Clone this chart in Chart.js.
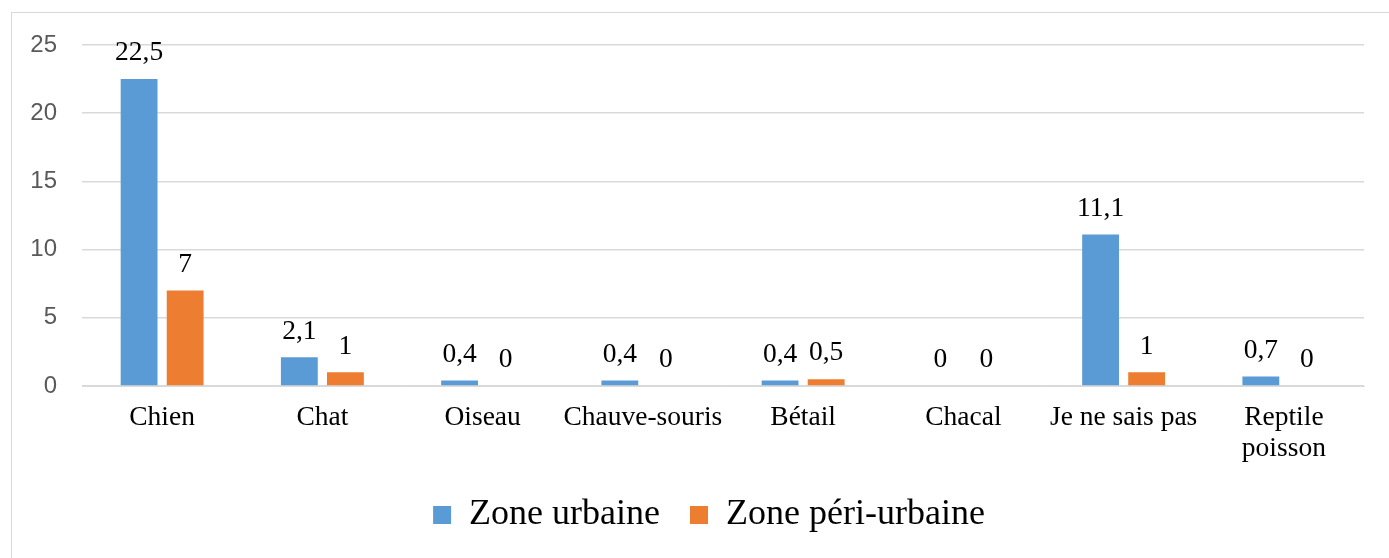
<!DOCTYPE html>
<html>
<head>
<meta charset="utf-8">
<script src="https://cdn.jsdelivr.net/npm/chart.js@4"></script>
<style>
    html, body { margin: 0; padding: 0; background: #fff; overflow: hidden; }
    #wrap { position: relative; width: 1389px; height: 558px; }
    #frame {
        position: absolute; left: 11px; top: 12px; width: 1400px; height: 600px;
        border: 1px solid #d9d9d9; pointer-events: none;
    }
    canvas { position: absolute; left: 0; top: 0; }
</style>
</head>
<body>
<div id="wrap">
    <canvas id="chart-animals" width="1389" height="558"></canvas>
    <div id="frame"></div>
</div>
<script>
const categories = ['Chien', 'Chat', 'Oiseau', 'Chauve-souris', 'Bétail', 'Chacal', 'Je ne sais pas', ['Reptile', 'poisson']];
const urbain = [22.5, 2.1, 0.4, 0.4, 0.4, 0, 11.1, 0.7];
const periUrbain = [7, 1, 0, 0, 0.5, 0, 1, 0];
const yTicks = [0, 5, 10, 15, 20, 25];

const serif = '"Liberation Serif", "Times New Roman", serif';

// write the value above each bar, french decimal comma
const valueLabels = {
    id: 'valueLabels',
    afterLayout(chart) {
        // legend is centred on the plot in the original, not on the canvas
        chart.legend.left += 27;
        chart.legend.right += 27;
    },
    afterDatasetsDraw(chart) {
        const ctx = chart.ctx;
        ctx.save();
        ctx.font = '27.5px ' + serif;
        ctx.fillStyle = '#000';
        ctx.textAlign = 'center';
        ctx.textBaseline = 'middle';
        chart.data.datasets.forEach((ds, i) => {
            chart.getDatasetMeta(i).data.forEach((bar, j) => {
                ctx.fillText(String(ds.data[j]).replace('.', ','), bar.x, bar.y - 26);
            });
        });
        ctx.restore();
    },
};

new Chart(document.getElementById('chart-animals'), {
    type: 'bar',
    data: {
        labels: categories,
        datasets: [{
            label: 'Zone urbaine',
            data: urbain,
            backgroundColor: '#5b9bd5',
            categoryPercentage: 0.575,
            barPercentage: 0.8,
        }, {
            label: 'Zone péri-urbaine',
            data: periUrbain,
            backgroundColor: '#ed7d31',
            categoryPercentage: 0.575,
            barPercentage: 0.8,
        }],
    },
    options: {
        responsive: false,
        animation: false,
        devicePixelRatio: 1,
        layout: {
            padding: { left: 0, right: 25, top: 45, bottom: 15 },
        },
        plugins: {
            legend: {
                position: 'bottom',
                labels: {
                    boxWidth: 18,
                    boxHeight: 18,
                    padding: 30,
                    color: '#000',
                    font: { family: serif, size: 36 },
                },
            },
            tooltip: { enabled: false },
        },
        scales: {
            x: {
                grid: { display: false },
                border: { color: '#d9d9d9' },
                ticks: {
                    color: '#000',
                    font: { family: serif, size: 27.5, lineHeight: 1.1 },
                    padding: 9,
                    autoSkip: false,
                    maxRotation: 0,
                },
                afterFit: (scale) => { scale.height = 81; },
            },
            y: {
                min: 0,
                max: 25,
                afterBuildTicks: (scale) => { scale.ticks = yTicks.map(v => ({ value: v })); },
                grid: { color: '#d9d9d9', lineWidth: 1.5, drawTicks: false },
                border: { display: false },
                ticks: {
                    color: '#595959',
                    font: { family: '"Liberation Sans", Arial, sans-serif', size: 24 },
                    padding: 25,
                },
                afterFit: (scale) => { scale.width = 82; },
            },
        },
    },
    plugins: [valueLabels],
});
</script>
</body>
</html>
